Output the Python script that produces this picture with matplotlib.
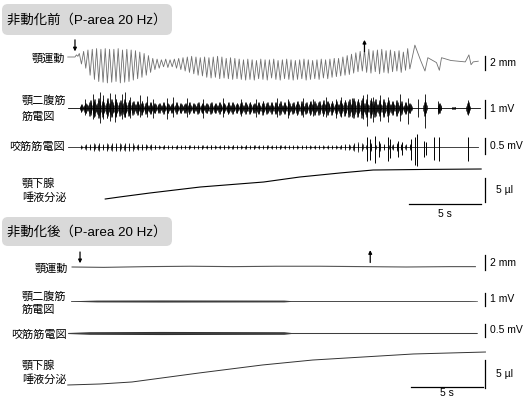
import numpy as np
import matplotlib.pyplot as plt
from matplotlib.patches import FancyBboxPatch

plt.rcParams['font.family'] = ['Liberation Sans', 'Noto Sans CJK JP', 'DejaVu Sans']

# ---- data (time in s, jaw in mm, EMG in mV, saliva in ul) ----
period = 0.3  # jaw cycle, s

# top: before immobilisation, one value per jaw cycle
jaw_top = [0.5, 0.8, 1.0, 1.1, 1.2, 1.1, 1.2, 1.1, 1.1, 1.2, 1.0, 1.1,
           1.0, 0.9, 0.7, 0.5, 0.2, -0.2, -0.3, -0.4, -0.3, -0.4, -0.3, -0.2,
           -0.1, 0.0, 0.1, 0.0, -0.1, 0.0, -0.1, 0.0, 0.1, 0.0, -0.2, -0.1,
           -0.2, -0.3, -0.4, -0.3, -0.4, -0.5, -0.3, -0.4, -0.4, -0.3, -0.5, -0.4,
           -0.3, -0.4, -0.5, -0.4, -0.3, -0.4, -0.5, -0.4, -0.3, -0.4, -0.3, -0.2,
           -0.2, 0.0, 0.2, 0.4, 0.6, 0.8, 1.0, 1.1, 0.9, 1.0, 1.1, 0.9,
           1.0, 0.8, 0.9, 0.7, 1.2]
jaw_bot = [-1.0, -1.6, -2.6, -3.2, -3.5, -3.6, -3.7, -3.6, -3.5, -3.7, -3.6, -3.5,
           -3.3, -3.1, -2.9, -2.6, -2.2, -1.8, -1.6, -1.4, -1.5, -1.4, -1.6, -1.8,
           -2.0, -2.2, -2.4, -2.6, -2.7, -2.9, -3.0, -2.9, -3.1, -3.0, -3.1, -3.2,
           -3.1, -3.2, -3.3, -3.2, -3.3, -3.1, -3.2, -3.3, -3.0, -3.2, -3.3, -3.1,
           -3.2, -3.3, -3.2, -3.1, -3.3, -3.2, -3.1, -3.2, -3.0, -3.1, -2.9, -2.8,
           -2.7, -2.6, -2.5, -2.3, -2.1, -2.0, -2.2, -2.3, -2.1, -2.4, -2.2, -2.3,
           -2.1, -2.0, -2.2, -1.9, -1.7]
jaw_pre_t = [-0.5, 0.0, 0.1, 0.2]
jaw_pre_v = [0.0, 0.0, 0.3, 0.1]
jaw_tail_t = [23.6, 24.0, 24.3, 24.5, 25.1, 25.3, 25.45, 26.1, 27.1, 27.35, 27.5, 27.65, 28.0]
jaw_tail_v = [1.7, -0.5, -2.0, -0.1, -0.8, -1.9, -0.1, -0.5, -0.7, 0.3, -1.1, -0.7, -0.6]

dig_amp = [0.2, 0.3, 0.45, 0.5, 0.55, 0.5, 0.55, 0.5, 0.5, 0.45, 0.5, 0.45,
           0.4, 0.4, 0.38, 0.35, 0.35, 0.3, 0.3, 0.32, 0.3, 0.3, 0.32, 0.3,
           0.3, 0.32, 0.3, 0.35, 0.3, 0.3, 0.35, 0.3, 0.32, 0.3, 0.35, 0.32,
           0.3, 0.35, 0.32, 0.35, 0.3, 0.35, 0.38, 0.35, 0.32, 0.35, 0.38, 0.35,
           0.38, 0.35, 0.4, 0.38, 0.35, 0.4, 0.38, 0.4, 0.42, 0.4, 0.38, 0.4,
           0.42, 0.45, 0.5, 0.55, 0.5, 0.55, 0.5, 0.55, 0.5, 0.45, 0.5, 0.45,
           0.4, 0.45, 0.38, 0.35, 0.3]
dig_tail_t = [24.3, 25.3, 26.3, 27.3]
dig_tail_amp = [0.45, 0.3, 0.08, 0.35]
dig_spk_t = [0.7, 1.25, 1.75, 1.95, 2.45, 2.8, 3.25, 3.5, 3.8, 4.5, 5.0, 5.4, 6.4, 6.8,
             7.8, 8.9, 10.3, 11.5, 12.6, 14.0, 14.8, 15.8, 16.5, 17.4, 18.1, 18.5,
             19.2, 20.0, 20.3, 20.7, 21.2, 21.7, 22.6, 23.1, 23.8, 24.3, 25.2, 27.3]
dig_spk_up = [0.5, 0.8, 0.9, 0.7, 0.85, 0.8, 0.75, 0.9, 0.6, 0.7, 0.65, 0.5, 0.55, 0.6,
              0.55, 0.5, 0.55, 0.5, 0.5, 0.55, 0.5, 0.55, 0.5, 0.6, 0.5, 0.6,
              0.55, 0.7, 0.75, 0.6, 0.7, 0.6, 0.75, 0.55, 0.5, 0.75, 0.4, 0.45]
dig_spk_dn = [0.4, 0.6, 0.85, 0.6, 0.7, 0.8, 0.6, 0.5, 0.55, 0.5, 0.5, 0.55, 0.6, 0.5,
              0.5, 0.55, 0.5, 0.45, 0.5, 0.5, 0.55, 0.5, 0.45, 0.5, 0.55, 0.5,
              0.5, 0.6, 1.0, 0.8, 0.7, 0.8, 0.7, 0.9, 0.5, 1.1, 0.35, 0.4]

mas_amp = [0.06, 0.08, 0.1, 0.12, 0.12, 0.1, 0.12, 0.13, 0.12, 0.12, 0.13, 0.12,
           0.11, 0.1, 0.1, 0.08, 0.08, 0.07, 0.06, 0.07, 0.06, 0.06, 0.07, 0.06,
           0.06, 0.07, 0.06, 0.06, 0.07, 0.06, 0.07, 0.06, 0.06, 0.07, 0.06, 0.07,
           0.06, 0.06, 0.07, 0.06, 0.07, 0.06, 0.06, 0.07, 0.06, 0.06, 0.07, 0.06,
           0.06, 0.05, 0.06, 0.05, 0.06, 0.05, 0.05, 0.06, 0.05, 0.06, 0.05, 0.06,
           0.07, 0.08, 0.1, 0.12, 0.15, 0.12, 0.1, 0.12, 0.1, 0.12, 0.1, 0.1,
           0.1, 0.12, 0.1, 0.08, 0.08]
mas_spk_t = [20.3, 20.5, 20.8, 21.1, 21.7, 21.9, 22.4, 22.7, 23.3, 23.6, 23.75, 24.2,
             24.4, 24.9, 25.3, 27.3]
mas_spk_up = [0.3, 0.25, 0.35, 0.2, 0.3, 0.25, 0.2, 0.15, 0.25, 0.3, 0.4, 0.2,
              0.15, 0.3, 0.3, 0.3]
mas_spk_dn = [0.45, 0.4, 0.5, 0.3, 0.45, 0.35, 0.3, 0.25, 0.4, 0.55, 0.6, 0.3,
              0.25, 0.4, 0.45, 0.45]

sal_pre_t = [2.1, 3.1, 5.2, 8.7, 13.1, 15.6, 18.4, 20.7, 24.0, 28.2]
sal_pre_v = [0.0, 0.42, 1.25, 2.5, 3.54, 4.58, 5.42, 6.04, 6.15, 6.25]

# bottom: after immobilisation
jaw_post_t = [-0.2, 2, 5, 8, 11, 14, 17, 20, 23, 26, 27.8]
jaw_post_v = [0.0, -0.05, 0.05, 0.1, 0.05, 0.1, 0.1, 0.05, 0.0, 0.05, 0.05]
dig_post_t = [-0.3, 1.5, 6.0, 14.5, 15.0, 27.3, 27.8]
dig_post_amp = [0.02, 0.07, 0.08, 0.07, 0.03, 0.025, 0.01]
mas_post_t = [-0.5, 1.0, 6.0, 14.5, 15.0, 27.9]
mas_post_amp = [0.02, 0.05, 0.06, 0.05, 0.02, 0.02]
sal_post_t = [-0.5, 1.74, 3.96, 8.6, 13.0, 16.5, 20.0, 23.5, 28.5]
sal_post_v = [0.0, 0.18, 0.54, 2.14, 3.57, 4.46, 5.0, 5.54, 5.89]

# ---- figure ----
W, H = 526, 400
T0, T1 = -1.04, 29.51
fig = plt.figure(figsize=(W / 100, H / 100), dpi=100)

deco = fig.add_axes([0, 0, 1, 1])
deco.set_xlim(0, W)
deco.set_ylim(H, 0)
deco.axis('off')


def trace_ax(yc, ppu, h=70):
    ax = fig.add_axes([60 / W, 1 - (yc + h / 2) / H, 440 / W, h / H])
    ax.set_xlim(T0, T1)
    ax.set_ylim(-h / 2 / ppu, h / 2 / ppu)
    ax.axis('off')
    ax.patch.set_alpha(0)
    return ax


def vbar(ax, t, v0, v1, label, dx=0.35):
    ax.plot([t, t], [v0, v1], color='k', lw=0.9, clip_on=False)
    ax.text(t + dx, (v0 + v1) / 2, label, ha='left', va='center', fontsize=7.5)


def tbar(ax, t0, v, dy=-7):
    ax.plot([t0, t0 + 5], [v, v], color='k', lw=0.9, clip_on=False)
    ax.annotate('5 s', xy=(t0 + 2.5, v), xytext=(0, dy), textcoords='offset points',
                ha='center', va='center', fontsize=7.5)


def arrow(ax, t, v_from, v_to):
    ax.annotate('', xy=(t, v_to), xytext=(t, v_from),
                arrowprops=dict(arrowstyle='-|>', lw=0.9, color='k', mutation_scale=5,
                                shrinkA=0, shrinkB=0))


def bursts(ax, centers, amp, offs, up_w, dn_w, lw=0.5):
    centers = np.asarray(centers)
    amp = np.asarray(amp)
    bt = (centers[:, None] + np.asarray(offs)[None, :]).ravel()
    ax.vlines(bt, -(amp[:, None] * np.asarray(dn_w)).ravel(),
              (amp[:, None] * np.asarray(up_w)).ravel(), color='k', lw=lw)


# burst templates (spacing within a burst and relative spike heights)
dig_offs = [-0.12, -0.09, -0.06, -0.03, 0.0, 0.03, 0.06, 0.09, 0.12]
dig_up_w = [0.35, 0.55, 0.8, 1.0, 0.8, 1.0, 0.7, 0.5, 0.35]
dig_dn_w = [0.4, 0.65, 1.0, 0.75, 1.0, 0.85, 0.6, 0.45, 0.3]
mas_offs = [-0.02, 0.0, 0.02]
mas_up_w = [0.6, 1.0, 0.7]
mas_dn_w = [0.7, 1.0, 0.5]

cycle_t = 0.3 + period * np.arange(len(jaw_top))

# titles
for y0, h, txt in [(4, 31, '非動化前（P-area 20 Hz）'), (217, 29, '非動化後（P-area 20 Hz）')]:
    deco.add_patch(FancyBboxPatch((8, y0 + 6), 158, h - 12, boxstyle='round,pad=6',
                                  fc='#d9d9d9', ec='none'))
    deco.text(87, y0 + h / 2 + 1, txt, ha='center', va='center', fontsize=9.6)

# left labels
lab = dict(fontsize=8, va='center')
deco.text(65, 59, '顎運動', ha='right', **lab)
deco.text(22, 101, '顎二腹筋', ha='left', **lab)
deco.text(22, 117, '筋電図', ha='left', **lab)
deco.text(65, 147, '咬筋筋電図', ha='right', **lab)
deco.text(22, 184, '顎下腺', ha='left', **lab)
deco.text(22, 198, '唾液分泌', ha='left', **lab)
deco.text(68, 269, '顎運動', ha='right', **lab)
deco.text(22, 297, '顎二腹筋', ha='left', **lab)
deco.text(22, 310, '筋電図', ha='left', **lab)
deco.text(67, 335, '咬筋筋電図', ha='right', **lab)
deco.text(22, 366, '顎下腺', ha='left', **lab)
deco.text(22, 380, '唾液分泌', ha='left', **lab)

bar_t = 28.5

# ---- top panel ----
ax = trace_ax(57, 7.0)
n = len(jaw_top)
jt = np.empty(2 * n)
jv = np.empty(2 * n)
jt[0::2] = cycle_t
jt[1::2] = cycle_t + period / 2
jv[0::2] = jaw_top
jv[1::2] = jaw_bot
ax.plot(np.concatenate([jaw_pre_t, jt, jaw_tail_t]),
        np.concatenate([jaw_pre_v, jv, jaw_tail_v]), color='#707070', lw=0.6)
arrow(ax, 0.0, 2.45, 0.8)
arrow(ax, 20.1, 0.75, 2.45)
vbar(ax, bar_t, 0.14, -1.86, '2 mm')

ax = trace_ax(108, 18.0)
ax.plot([-0.5, 28.1], [0, 0], color='k', lw=0.6)
bursts(ax, cycle_t + period / 2, dig_amp, dig_offs, dig_up_w, dig_dn_w)
bursts(ax, dig_tail_t, dig_tail_amp, dig_offs, dig_up_w, dig_dn_w)
ax.vlines(dig_spk_t, -np.array(dig_spk_dn), dig_spk_up, color='k', lw=0.6)
vbar(ax, bar_t, 0.44, -0.56, '1 mV')

ax = trace_ax(147, 32.0)
ax.plot([-0.5, 28.0], [0, 0], color='#222222', lw=0.6)
bursts(ax, cycle_t + period / 2, mas_amp, mas_offs, mas_up_w, mas_dn_w, lw=0.5)
ax.vlines(mas_spk_t, -np.array(mas_spk_dn), mas_spk_up, color='k', lw=0.7)
vbar(ax, bar_t, 0.28, -0.22, '0.5 mV')

ax = trace_ax(199, 4.8, h=110)
ax.plot(sal_pre_t, sal_pre_v, color='k', lw=0.8)
vbar(ax, bar_t, 4.375, -0.625, '5 µl', dx=0.75)
tbar(ax, 23.2, -1.05)

# ---- bottom panel ----
ax = trace_ax(267, 7.5)
ax.plot(jaw_post_t, jaw_post_v, color='#555555', lw=0.8)
arrow(ax, 0.35, 2.0, 0.5)
arrow(ax, 20.5, 0.6, 2.25)
vbar(ax, bar_t, 1.6, -0.4, '2 mm')

ax = trace_ax(301, 13.0)
ax.plot([-0.3, 27.9], [0, 0], color='#444444', lw=0.5)
ax.fill_between(dig_post_t, -np.array(dig_post_amp), dig_post_amp, color='#333333', lw=0)
vbar(ax, bar_t, 0.62, -0.38, '1 mV')

ax = trace_ax(333, 26.0)
ax.plot([-0.5, 27.9], [0, 0], color='#444444', lw=0.5)
ax.fill_between(mas_post_t, -np.array(mas_post_amp), mas_post_amp, color='#333333', lw=0)
vbar(ax, bar_t, 0.35, -0.15, '0.5 mV')

ax = trace_ax(385, 5.6, h=110)
ax.plot(sal_post_t, sal_post_v, color='#333333', lw=0.7)
vbar(ax, bar_t, 4.46, -0.54, '5 µl', dx=0.75)
tbar(ax, 23.3, -0.4, dy=-4.5)

fig.savefig('out.png', dpi=100)
